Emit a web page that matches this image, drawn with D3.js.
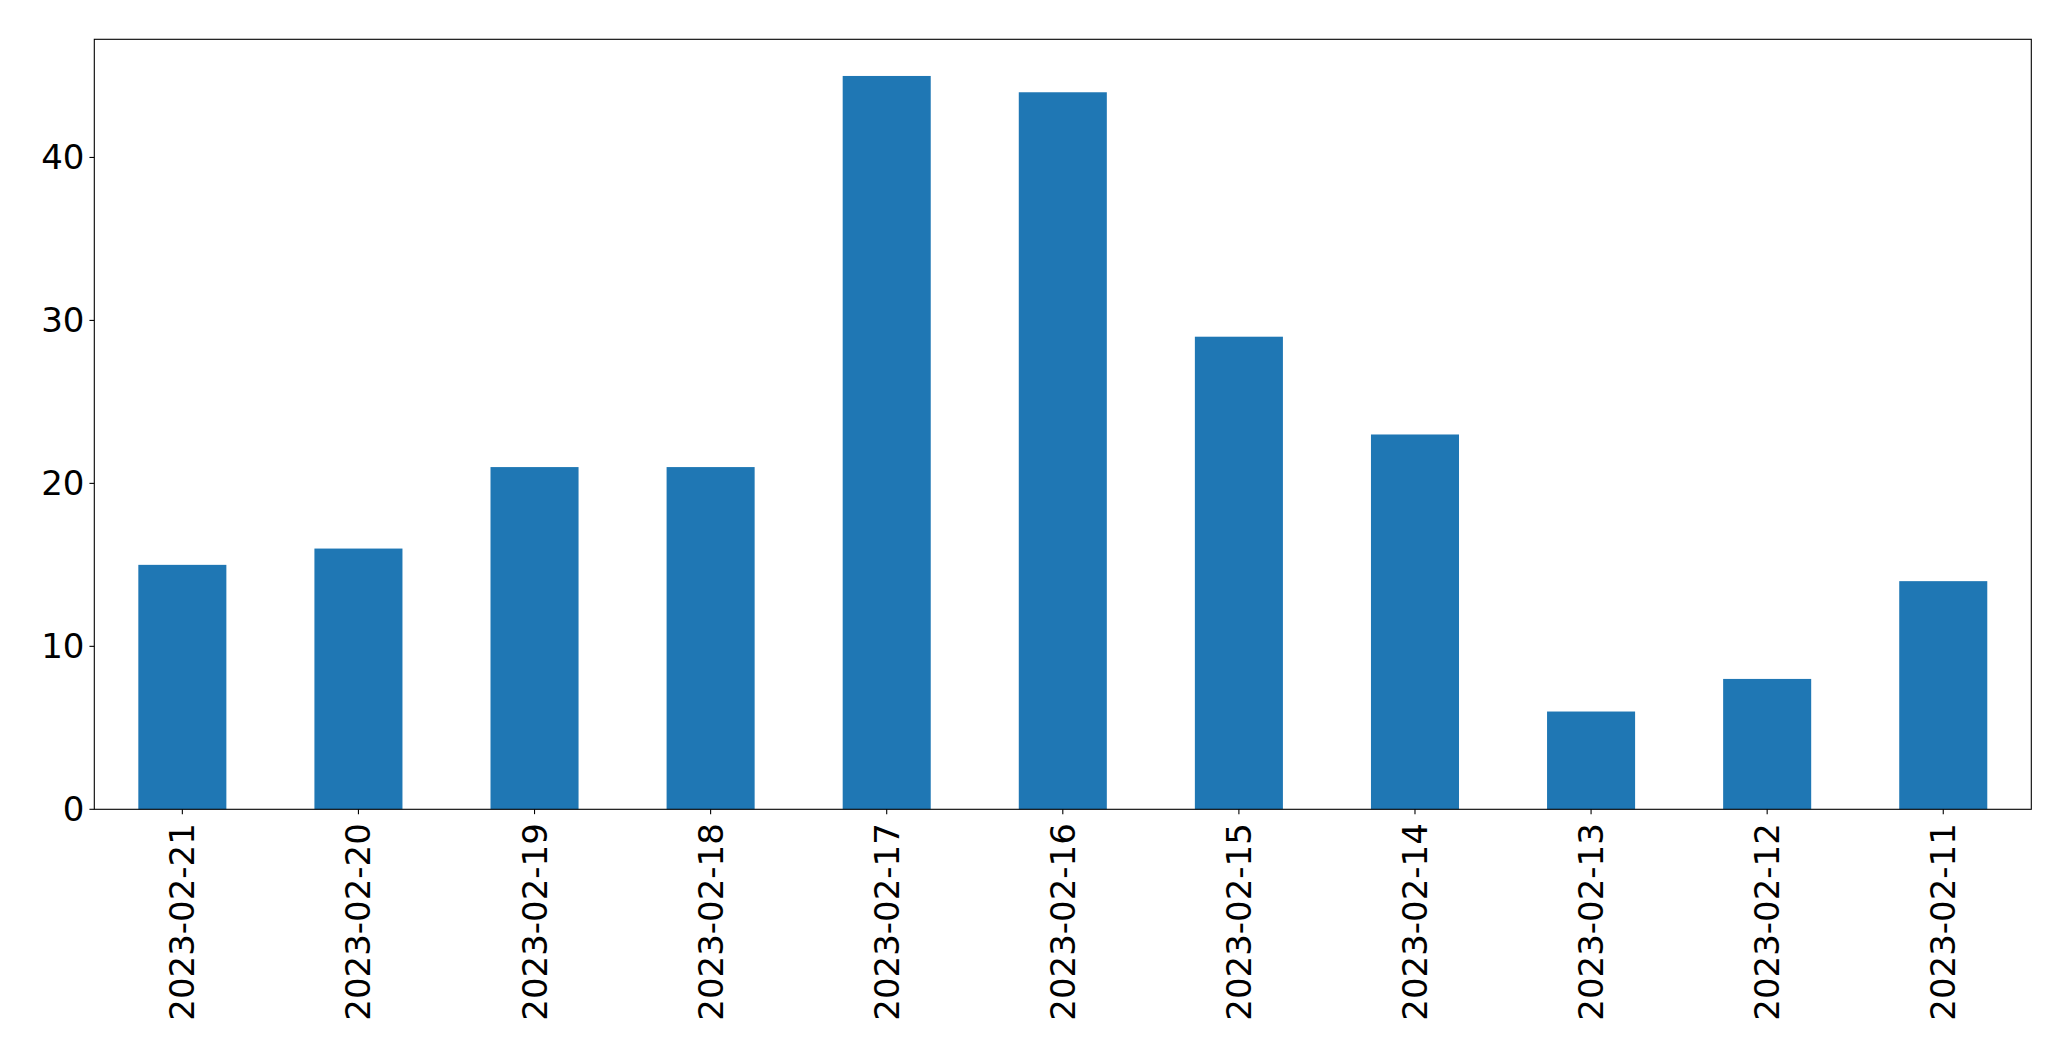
<!DOCTYPE html>
<html><head><meta charset="utf-8">
<script src="https://cdn.jsdelivr.net/npm/d3@7"></script>
<style>body{margin:0;background:#fff}svg{display:block}</style>
</head><body>
<script>
const categories = ["2023-02-21","2023-02-20","2023-02-19","2023-02-18","2023-02-17","2023-02-16","2023-02-15","2023-02-14","2023-02-13","2023-02-12","2023-02-11"];
const values = [15,16,21,21,45,44,29,23,6,8,14];
const yTicks = [0,10,20,30,40];

const W = 2071, H = 1061;
const L = 94.3, R = 2031.3, T = 39.3, B = 809.3;
const svg = d3.select("body").append("svg").attr("width", W).attr("height", H);

const x = d3.scaleLinear().domain([-0.5, categories.length - 0.5]).range([L, R]);
const y = d3.scaleLinear().domain([0, d3.max(values) * 1.05]).range([B, T]);
const bw = x(0.5) - x(0);

svg.append("g").selectAll("rect").data(values).join("rect")
  .attr("x", (d, i) => x(i) - bw / 2)
  .attr("width", bw)
  .attr("y", d => y(d))
  .attr("height", d => y(0) - y(d))
  .attr("fill", "#1f77b4");

const font = "DejaVu Sans, sans-serif";
const fs = 34;
const tick = 4.86;

// y axis
const ya = svg.append("g");
yTicks.forEach(t => {
  ya.append("line").attr("x1", L - tick).attr("x2", L).attr("y1", y(t)).attr("y2", y(t))
    .attr("stroke", "#000").attr("stroke-width", 1.1);
  ya.append("text").attr("x", L - tick - 5).attr("y", y(t))
    .attr("text-anchor", "end").attr("dominant-baseline", "central")
    .attr("font-family", font).attr("font-size", fs).attr("fill", "#000").text(t);
});

// x axis
const xa = svg.append("g");
categories.forEach((c, i) => {
  xa.append("line").attr("x1", x(i)).attr("x2", x(i)).attr("y1", B).attr("y2", B + tick)
    .attr("stroke", "#000").attr("stroke-width", 1.1);
  xa.append("text")
    .attr("transform", `translate(${x(i)},${B + tick + 9}) rotate(-90)`)
    .attr("text-anchor", "end").attr("dominant-baseline", "central")
    .attr("font-family", font).attr("font-size", fs).attr("fill", "#000").text(c);
});

svg.append("rect").attr("x", L).attr("y", T).attr("width", R - L).attr("height", B - T)
  .attr("fill", "none").attr("stroke", "#000").attr("stroke-width", 1.1);
</script>
</body></html>
